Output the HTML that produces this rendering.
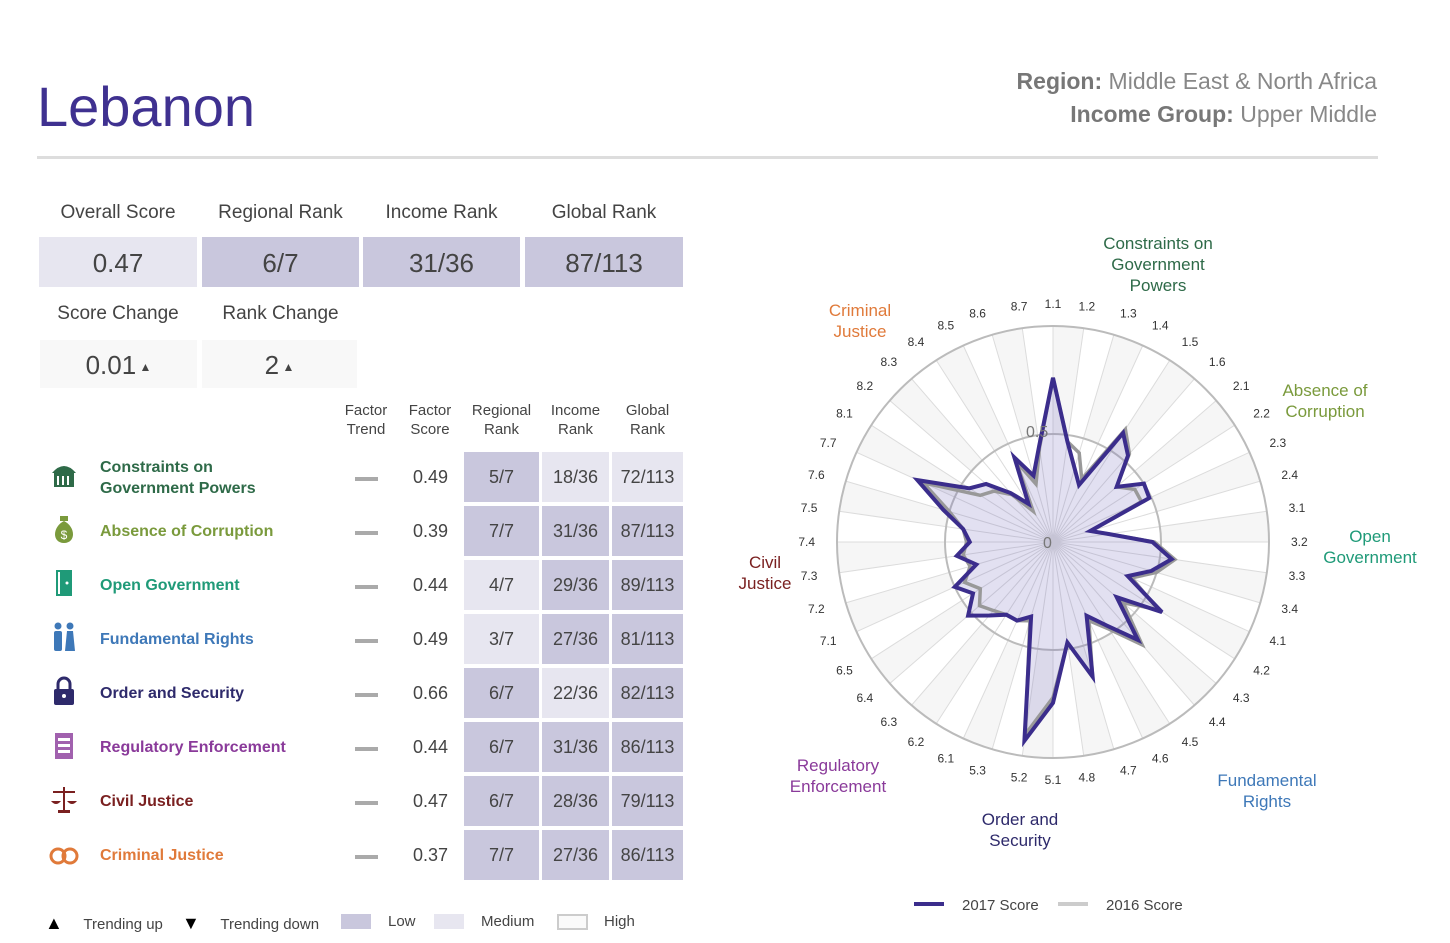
<!DOCTYPE html>
<html><head><meta charset="utf-8">
<style>
body{margin:0;width:1450px;height:943px;background:#fff;font-family:"Liberation Sans",sans-serif;position:relative;overflow:hidden;color:#444}
.a{position:absolute}
.hdr{font-size:19px;color:#444;text-align:center}
.box{position:absolute;height:50px;font-size:26px;color:#444;text-align:center;line-height:52px}
.low{background:#c9c7dd}.med{background:#e7e6f0}.hi{background:#fff}
.th{position:absolute;font-size:15px;color:#444;text-align:center;line-height:19px}
.cell{position:absolute;height:50px;line-height:50px;text-align:center;font-size:18px;color:#444}
.fname{position:absolute;font-size:16px;font-weight:bold;line-height:21px}
.dash{position:absolute;width:23px;height:4px;background:#aaa}
.fs{position:absolute;font-size:18px;color:#444}
.leg{position:absolute;font-size:15px;color:#444;top:913px}
</style></head><body>
<div class="a" style="left:37px;top:74px;font-size:56px;color:#3f3190">Lebanon</div>
<div class="a" style="right:73px;top:68px;font-size:23px;color:#888"><b style="color:#777">Region:</b> Middle East &amp; North Africa</div>
<div class="a" style="right:73px;top:101px;font-size:23px;color:#888"><b style="color:#777">Income Group:</b> Upper Middle</div>
<div class="a" style="left:37px;top:156px;width:1341px;height:3px;background:#ddd"></div>

<div class="a hdr" style="left:39px;top:202px;width:158px">Overall Score</div>
<div class="a hdr" style="left:202px;top:202px;width:157px">Regional Rank</div>
<div class="a hdr" style="left:363px;top:202px;width:157px">Income Rank</div>
<div class="a hdr" style="left:525px;top:202px;width:158px">Global Rank</div>
<div class="box med" style="left:39px;top:237px;width:158px">0.47</div>
<div class="box low" style="left:202px;top:237px;width:157px">6/7</div>
<div class="box low" style="left:363px;top:237px;width:157px">31/36</div>
<div class="box low" style="left:525px;top:237px;width:158px">87/113</div>
<div class="a hdr" style="left:39px;top:303px;width:158px">Score Change</div>
<div class="a hdr" style="left:202px;top:303px;width:157px">Rank Change</div>
<div class="box" style="left:40px;top:340px;width:157px;height:48px;line-height:50px;background:#f8f8f8">0.01<span style="font-size:12px;vertical-align:3px"> ▲</span></div>
<div class="box" style="left:202px;top:340px;width:155px;height:48px;line-height:50px;background:#f8f8f8">2<span style="font-size:12px;vertical-align:3px"> ▲</span></div>

<div class="th" style="left:336px;top:401px;width:60px">Factor<br>Trend</div>
<div class="th" style="left:400px;top:401px;width:60px">Factor<br>Score</div>
<div class="th" style="left:464px;top:401px;width:75px">Regional<br>Rank</div>
<div class="th" style="left:542px;top:401px;width:67px">Income<br>Rank</div>
<div class="th" style="left:612px;top:401px;width:71px">Global<br>Rank</div>

<div id="rows"></div>

<div class="leg" style="left:45px"><span style="font-size:18px;color:#000">▲</span>&nbsp;&nbsp;&nbsp;&nbsp; Trending up</div>
<div class="leg" style="left:182px"><span style="font-size:18px;color:#000">▼</span>&nbsp;&nbsp;&nbsp;&nbsp; Trending down</div>
<div class="a" style="left:341px;top:914px;width:30px;height:15px;background:#c9c7dd"></div>
<div class="leg" style="left:388px">Low</div>
<div class="a" style="left:434px;top:914px;width:30px;height:15px;background:#e7e6f0"></div>
<div class="leg" style="left:481px">Medium</div>
<div class="a" style="left:557px;top:914px;width:27px;height:12px;border:2px solid #ccc;background:#fafafa"></div>
<div class="leg" style="left:604px">High</div>

<svg id="radar" class="a" style="left:0;top:0" width="1450" height="943" viewBox="0 0 1450 943"></svg>

<script>
const factorNames=["Constraints on Government Powers","Absence of Corruption","Open Government","Fundamental Rights","Order and Security","Regulatory Enforcement","Civil Justice","Criminal Justice"];
const factorColors=["#2e6a48","#7a9a3c","#1f9a78","#3e78b8","#2e2a6b","#8a3a9a","#7a2020","#e07a3a"];
const factorScores=["0.49","0.39","0.44","0.49","0.66","0.44","0.47","0.37"];
const regionalRanks=["5/7","7/7","4/7","3/7","6/7","6/7","6/7","7/7"];
const incomeRanks=["18/36","31/36","29/36","27/36","22/36","31/36","28/36","27/36"];
const globalRanks=["72/113","87/113","89/113","81/113","82/113","86/113","79/113","86/113"];
const regionalLevels=["low","low","med","med","low","low","low","low"];
const incomeLevels=["med","low","low","low","med","low","low","low"];
const globalLevels=["med","low","low","low","low","low","low","low"];

const subLabels=["1.1","1.2","1.3","1.4","1.5","1.6","2.1","2.2","2.3","2.4","3.1","3.2","3.3","3.4","4.1","4.2","4.3","4.4","4.5","4.6","4.7","4.8","5.1","5.2","5.3","6.1","6.2","6.3","6.4","6.5","7.1","7.2","7.3","7.4","7.5","7.6","7.7","8.1","8.2","8.3","8.4","8.5","8.6","8.7"];
const scores2017=[0.76,0.47,0.355,0.29,0.60,0.53,0.39,0.50,0.49,0.18,0.26,0.46,0.555,0.475,0.38,0.60,0.39,0.60,0.46,0.375,0.65,0.47,0.745,0.93,0.36,0.40,0.40,0.45,0.52,0.44,0.50,0.37,0.45,0.385,0.42,0.53,0.69,0.46,0.41,0.30,0.21,0.43,0.32,0.45];
const scores2016=[0.76,0.47,0.43,0.32,0.62,0.54,0.39,0.45,0.45,0.18,0.26,0.47,0.57,0.50,0.40,0.58,0.43,0.63,0.48,0.40,0.65,0.47,0.72,0.90,0.38,0.40,0.40,0.42,0.45,0.40,0.45,0.40,0.42,0.40,0.42,0.50,0.66,0.40,0.36,0.29,0.17,0.41,0.28,0.44];
const ringValues=[0.5,1];
const ringLabels=["0.5","1"];

const rows=document.getElementById('rows');
const colX=[464,542,612],colW=[75,67,71];
function icon(i,c){
  const s=[
   `<rect x="6" y="14" width="20" height="14" fill="${c}"/><path d="M4 14 Q16 0 28 14Z" fill="${c}"/><rect x="9" y="17" width="2" height="9" fill="#fff"/><rect x="14" y="17" width="2" height="9" fill="#fff"/><rect x="19" y="17" width="2" height="9" fill="#fff"/>`,
   `<path d="M16 8 C4 14 4 30 16 30 C28 30 28 14 16 8Z" fill="${c}"/><rect x="12" y="3" width="8" height="5" fill="${c}"/><text x="16" y="26" font-size="12" fill="#fff" text-anchor="middle" font-family="Liberation Sans">$</text>`,
   `<rect x="8" y="3" width="16" height="26" fill="${c}"/><rect x="10" y="5" width="2" height="22" fill="#fff"/><circle cx="19" cy="16" r="1.5" fill="#fff"/>`,
   `<circle cx="10" cy="5" r="3.5" fill="${c}"/><circle cx="22" cy="5" r="3.5" fill="${c}"/><rect x="6" y="10" width="8" height="20" rx="2" fill="${c}"/><path d="M17 30 L19 10 L25 10 L27 30Z" fill="${c}"/>`,
   `<path d="M10 14 V9 A6 6 0 0 1 22 9 V14" stroke="${c}" stroke-width="3" fill="none"/><rect x="6" y="14" width="20" height="16" rx="2" fill="${c}"/><circle cx="16" cy="21" r="2" fill="#fff"/>`,
   `<rect x="7" y="4" width="18" height="26" fill="${c}" opacity="0.8"/><rect x="10" y="9" width="12" height="3" fill="#fff"/><rect x="10" y="15" width="12" height="3" fill="#fff"/><rect x="10" y="21" width="12" height="3" fill="#fff"/>`,
   `<rect x="15" y="4" width="2" height="24" fill="${c}"/><rect x="5" y="8" width="22" height="2" fill="${c}"/><path d="M3 18 Q8 24 13 18Z" fill="${c}"/><path d="M19 18 Q24 24 29 18Z" fill="${c}"/><rect x="10" y="27" width="12" height="3" fill="${c}"/>`,
   `<circle cx="10" cy="19" r="7" stroke="${c}" stroke-width="3" fill="none"/><circle cx="22" cy="19" r="7" stroke="${c}" stroke-width="3" fill="none"/>`
  ];
  return `<svg width="32" height="34" viewBox="0 0 32 34">${s[i]}</svg>`;
}
for(let i=0;i<factorNames.length;i++){
  const y=449+i*54;
  const ic=document.createElement('div');ic.className='a';ic.style.left='48px';ic.style.top=(y+10)+'px';
  ic.innerHTML=icon(i,factorColors[i]);
  
  
  rows.appendChild(ic);
  const n=document.createElement('div');n.className='fname';n.style.left='100px';n.style.color=factorColors[i];
  n.style.width=(i==0?'175px':'240px');
  n.textContent=factorNames[i];
  n.style.top=(i==0? y+8 : y+18)+'px';
  
  
  rows.appendChild(n);
  const d=document.createElement('div');d.className='dash';d.style.left='355px';d.style.top=(y+28)+'px';
  
  
  rows.appendChild(d);
  const f=document.createElement('div');f.className='fs';f.style.left='413px';f.style.top=(y+18)+'px';f.textContent=factorScores[i];
  
  
  rows.appendChild(f);
  const vals=[regionalRanks[i],incomeRanks[i],globalRanks[i]],lv=[regionalLevels[i],incomeLevels[i],globalLevels[i]];
  const nm=['regional-rank-cell','income-rank-cell','global-rank-cell'];
  for(let j=0;j<3;j++){
    const c=document.createElement('div');c.className='cell '+lv[j];
    c.style.left=colX[j]+'px';c.style.width=colW[j]+'px';c.style.top=(y+3)+'px';c.textContent=vals[j];
    
    
    rows.appendChild(c);
  }
}

const svg=document.getElementById('radar'),NS='http://www.w3.org/2000/svg';
const cx=1053,cy=542,R=216,N=subLabels.length;
function ang(i){return i*2*Math.PI/N;}
function px(i,v){return cx+Math.sin(ang(i))*v*R;}
function py(i,v){return cy-Math.cos(ang(i))*v*R;}
function el(t,a){const e=document.createElementNS(NS,t);for(const k in a)e.setAttribute(k,a[k]);svg.appendChild(e);return e;}
for(let i=0;i<N;i++){
  if(i%2==0){
    const a0=ang(i),a1=ang(i+1);
    const w=el('path',{d:`M${cx+Math.sin(a0)*R*0.5},${cy-Math.cos(a0)*R*0.5} L${cx+Math.sin(a0)*R},${cy-Math.cos(a0)*R} A${R},${R} 0 0 1 ${cx+Math.sin(a1)*R},${cy-Math.cos(a1)*R} L${cx+Math.sin(a1)*R*0.5},${cy-Math.cos(a1)*R*0.5} A${R*0.5},${R*0.5} 0 0 0 ${cx+Math.sin(a0)*R*0.5},${cy-Math.cos(a0)*R*0.5}Z`,fill:'#f6f6f6'});
    
    
  }
}
for(let i=0;i<N;i++){
  const l=el('line',{x1:cx,y1:cy,x2:px(i,1),y2:py(i,1),stroke:'#dcdcdc','stroke-width':1});
  
  
}
ringValues.forEach((v,k)=>{
  const c=el('circle',{cx:cx,cy:cy,r:v*R,fill:'none',stroke:'#bbb','stroke-width':2});
  
  
});
function poly(vals,stroke,fill,w,name){
  const pts=vals.map((v,i)=>px(i,v).toFixed(1)+','+py(i,v).toFixed(1)).join(' ');
  const p=el('polygon',{points:pts,fill:fill,stroke:stroke,'stroke-width':w,'stroke-linejoin':'miter'});
  
  
}
poly(scores2017,'none','rgba(125,115,190,0.22)',0,'series-2017-area');
poly(scores2016,'#999','none',3.5,'series-2016-line');
poly(scores2017,'#3b2d8c','none',4,'series-2017-line');
const t0=el('text',{x:cx-10,y:cy+6,'font-size':16,fill:'#777','font-family':'Liberation Sans'});t0.textContent='0';


const t5=el('text',{x:cx-27,y:cy-ringValues[0]*R+3,'font-size':16,fill:'#777','font-family':'Liberation Sans'});t5.textContent=ringLabels[0];


for(let i=0;i<N;i++){
  const s=Math.sin(ang(i)),c=Math.cos(ang(i));
  const x=cx+s*238,y=cy-c*238+4;
  const anchor=Math.abs(s)<0.2?'middle':(s>0?'start':'end');
  const t=el('text',{x:x,y:y,'font-size':12,fill:'#333','text-anchor':anchor,'font-family':'Liberation Sans'});
  t.textContent=subLabels[i];
  
  
}
const catLabels=[[1158,249,["Constraints on","Government","Powers"]],[1325,396,["Absence of","Corruption"]],[1370,542,["Open","Government"]],[1267,786,["Fundamental","Rights"]],[1020,825,["Order and","Security"]],[838,771,["Regulatory","Enforcement"]],[765,568,["Civil","Justice"]],[860,316,["Criminal","Justice"]]];
catLabels.forEach((c,k)=>{
  c[2].forEach((line,j)=>{
    const t=el('text',{x:c[0],y:c[1]+j*21,'font-size':17,fill:factorColors[k],'text-anchor':'middle','font-family':'Liberation Sans'});
    t.textContent=line;
    
    
  });
});
const l1=el('line',{x1:914,y1:904,x2:944,y2:904,stroke:'#3b2d8c','stroke-width':4});


const lt1=el('text',{x:962,y:910,'font-size':15,fill:'#444','font-family':'Liberation Sans'});lt1.textContent='2017 Score';


const l2=el('line',{x1:1058,y1:904,x2:1088,y2:904,stroke:'#ccc','stroke-width':4});


const lt2=el('text',{x:1106,y:910,'font-size':15,fill:'#444','font-family':'Liberation Sans'});lt2.textContent='2016 Score';


</script>
</body></html>
